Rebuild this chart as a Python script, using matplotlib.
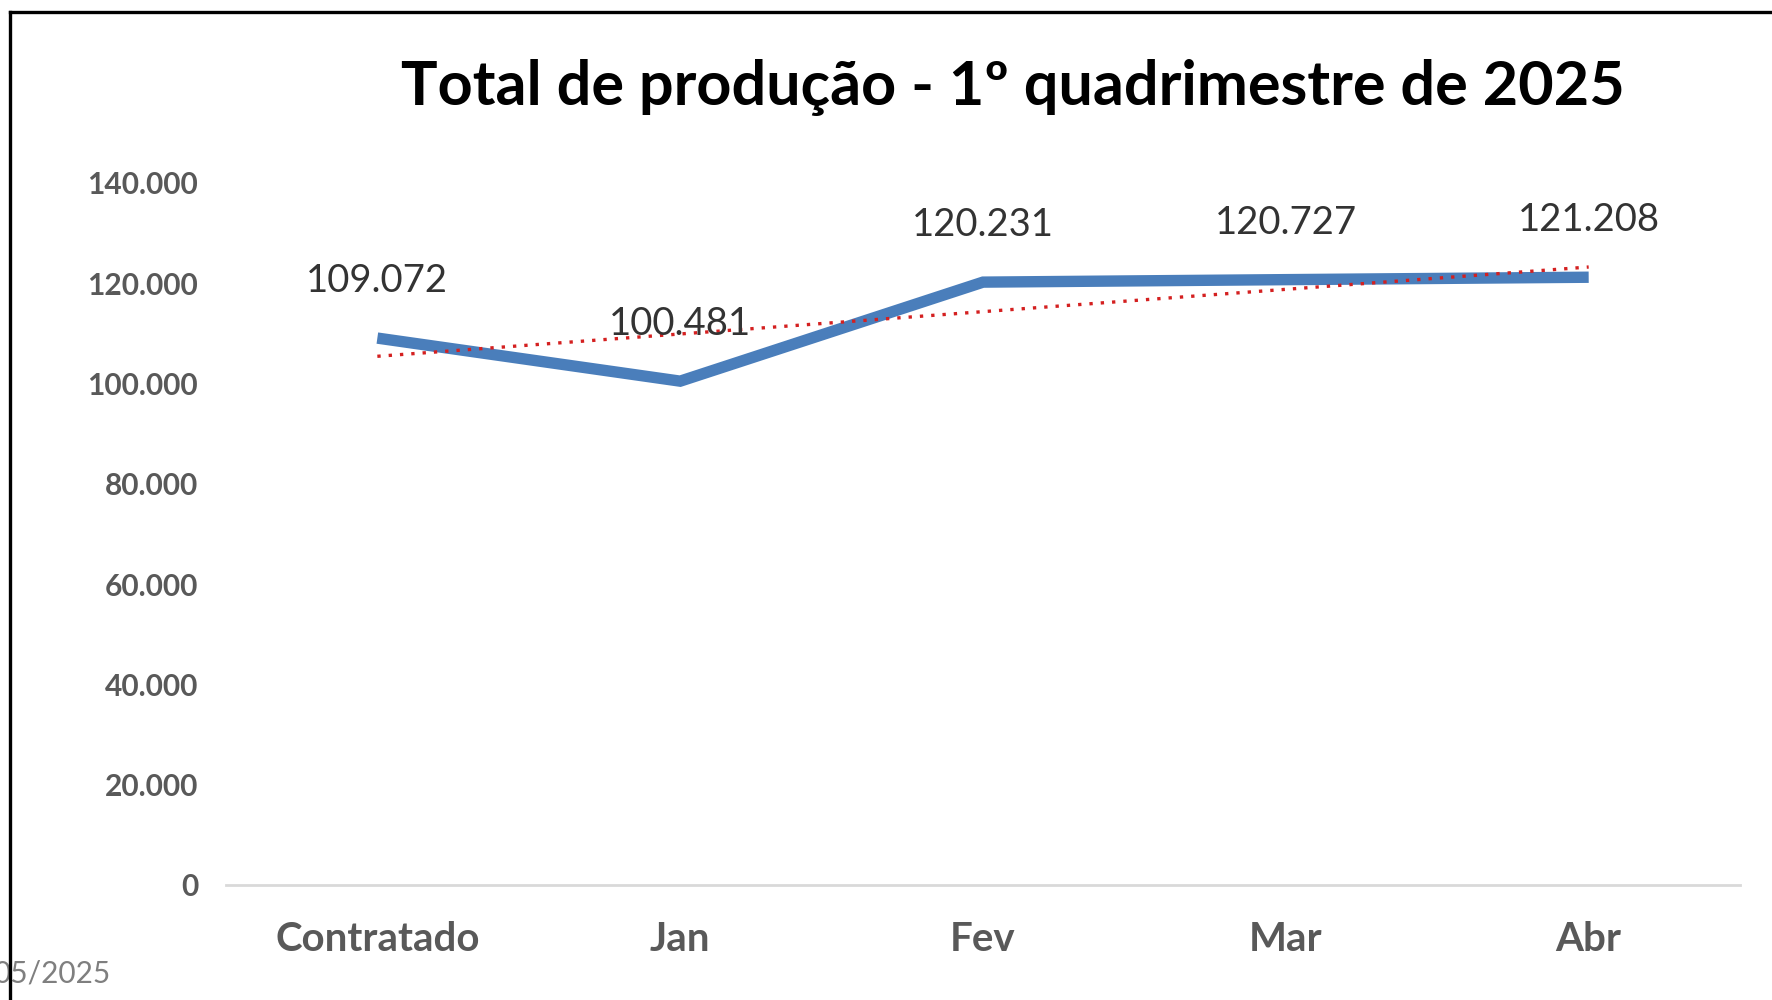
import numpy as np
import matplotlib
matplotlib.use("Agg")
import matplotlib.pyplot as plt
from matplotlib.lines import Line2D

# dados do grafico
categorias = ["Contratado", "Jan", "Fev", "Mar", "Abr"]
producao = [109072, 100481, 120231, 120727, 121208]
yticks = [0, 20000, 40000, 60000, 80000, 100000, 120000, 140000]
titulo = "Total de produção - 1º quadrimestre de 2025"
rodape = "05/2025"

plt.rcParams['font.family'] = ['Lato', 'DejaVu Sans']


def fmt_br(v):
    return f"{v:,.0f}".replace(",", ".")


fig = plt.figure(figsize=(17.72, 10), dpi=100)
ax = fig.add_axes([0.1275, 0.115, 0.8545, 0.702])

x = np.arange(len(categorias))
ax.plot(x, producao, color="#4a7ebb", linewidth=8.2, solid_capstyle="butt",
        solid_joinstyle="miter", zorder=3)

# linha de tendencia linear (como no Excel)
coef = np.polyfit(x, producao, 1)
tend = np.polyval(coef, x)
ax.plot(x, tend, color="#d42020", linewidth=2.4, linestyle=(0, (1, 2.4)), zorder=4)

for xi, v in zip(x, producao):
    ax.annotate(fmt_br(v), (xi, v), xytext=(0, 41), textcoords="offset points",
                ha="center", va="center", fontsize=27.5, color="#333333", zorder=5)

ax.set_xlim(-0.5, len(categorias) - 0.5)
ax.set_ylim(0, 140000)
ax.set_yticks(yticks)
ax.set_yticklabels([fmt_br(v) for v in yticks], fontsize=21.5, color="#595959",
                   fontweight="bold")
ax.set_xticks(x)
ax.set_xticklabels(categorias, fontsize=29, color="#595959", fontweight="bold")
ax.tick_params(axis="both", length=0)
ax.tick_params(axis="y", pad=20)
ax.tick_params(axis="x", pad=26)

for s in ["top", "right", "left"]:
    ax.spines[s].set_visible(False)
ax.spines["bottom"].set_color("#d9d9d9")
ax.spines["bottom"].set_linewidth(2)

fig.text(0.5715, 0.913, titulo, ha="center", va="center", fontsize=44,
         fontweight="bold", color="black")

fig.text(-0.004, 0.027, rodape, ha="left", va="center", fontsize=21.5,
         color="#7f7f7f", zorder=1)

# moldura preta (topo e esquerda)
fig.add_artist(Line2D([10 / 1772, 1.0], [1 - 12 / 1000, 1 - 12 / 1000],
                      transform=fig.transFigure, color="black", linewidth=2.4, zorder=10))
fig.add_artist(Line2D([10 / 1772, 10 / 1772], [0.0, 1 - 12 / 1000],
                      transform=fig.transFigure, color="black", linewidth=2.4, zorder=10))

fig.savefig("out.png", dpi=100, facecolor="white")
